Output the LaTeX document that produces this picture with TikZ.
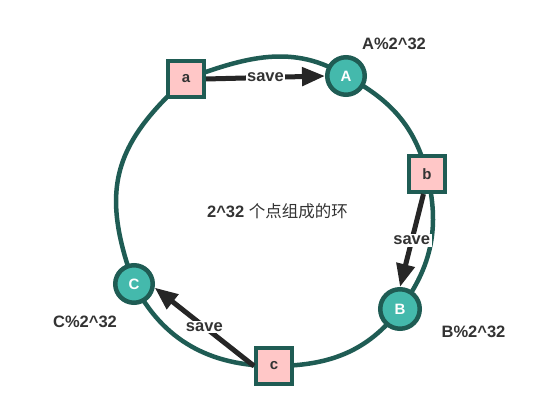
\documentclass[tikz,border=0pt]{standalone}
\usepackage{fontspec}
\setmainfont{Liberation Sans}
\newfontfamily\cjk{Noto Sans CJK SC}
\usetikzlibrary{arrows.meta,backgrounds}
\definecolor{ringc}{HTML}{1F5C54}
\definecolor{tealc}{HTML}{44B9AC}
\definecolor{pinkc}{HTML}{FFC7C7}
\definecolor{txt}{HTML}{333333}
\definecolor{arr}{HTML}{262626}
\begin{document}
\begin{tikzpicture}[x=1pt,y=1pt,
  sq/.style={draw=ringc, fill=pinkc, line width=4pt, minimum size=36pt, inner sep=0pt,
    font=\fontsize{15}{17}\selectfont\bfseries, text=txt},
  hub/.style={circle, draw=ringc, fill=tealc, line width=4.5pt, minimum size=37.5pt, inner sep=0pt,
    font=\fontsize{15}{17}\selectfont\bfseries, text=white},
  ring/.style={draw=ringc, line width=4.5pt},
  savearrow/.style={draw=arr, line width=5pt, -{Triangle[length=23pt,width=18pt]}},
  savelbl/.style={fill=white, inner sep=1.5pt, font=\fontsize{16.5}{18}\selectfont\bfseries, text=txt},
  lbl/.style={font=\fontsize{16.5}{18}\selectfont\bfseries, text=txt}]
\useasboundingbox (0,0) rectangle (552,412);

\node[sq] (a) at (186,333) {a};
\node[hub] (A) at (346,336) {A};
\node[sq] (b) at (427,238) {b};
\node[hub, minimum size=39.5pt] (B) at (400,103) {B};
\node[hub] (C) at (134,128) {C};
\node[sq] (c) at (274,46) {c};

\begin{pgfonlayer}{background}
\fill[white] (0,0) rectangle (552,412);
\draw[ring] (a.center) to[out=20,in=148] (A.center)
  to[out=-28,in=104] (b.center)
  to[out=-76,in=53] (B.center)
  to[out=-127,in=0] (c.center)
  to[out=180,in=-63] (C.center)
  to[out=110,in=222,looseness=1.2] (a.center);
\end{pgfonlayer}

\draw[savearrow] (a.east) -- node[savelbl] (s1) {save} (A.west);
\draw[savearrow] (b.-100) -- node[savelbl] (s2) {save} (B.north);
\draw[savearrow] (c.west) -- node[savelbl] (s3) {save} (C.-10);

\node[lbl] (la) at (394,368) {A\%2\textasciicircum 32};
\node[lbl] (lb) at (473.5,80) {B\%2\textasciicircum 32};
\node[lbl] (lc) at (85,90) {C\%2\textasciicircum 32};
\node[lbl] (ctr) at (277.5,201) {2\textasciicircum 32 {\cjk\mdseries 个点组成的环}};
\end{tikzpicture}
\end{document}
